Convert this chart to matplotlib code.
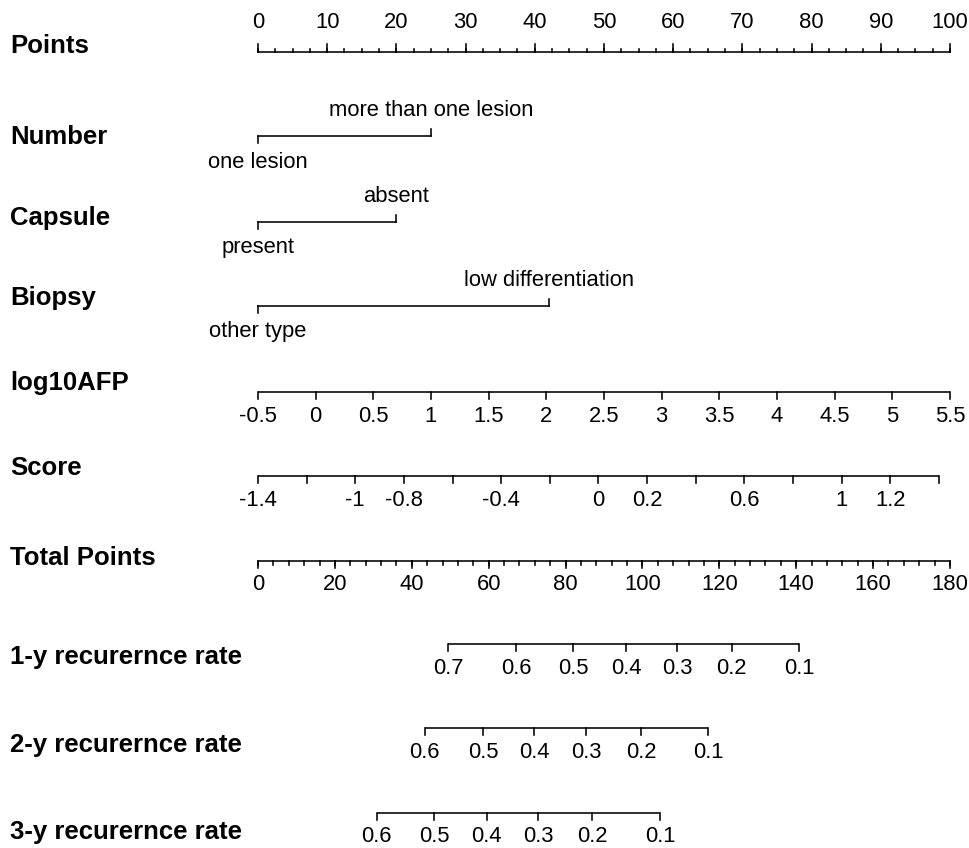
import matplotlib
matplotlib.use("Agg")
import numpy as np
from matplotlib import pyplot as plt

plt.rcParams['font.family'] = ['Liberation Sans', 'DejaVu Sans']

# Points scale (top axis)
points_major = [0, 10, 20, 30, 40, 50, 60, 70, 80, 90, 100]
points_minor_step = 2.5

# Categorical predictors: (low label, high label, points of high level)
number_levels = ["one lesion", "more than one lesion"]
number_points = [0, 25]
capsule_levels = ["present", "absent"]
capsule_points = [0, 20]
biopsy_levels = ["other type", "low differentiation"]
biopsy_points = [0, 42]

# log10AFP: -0.5 -> 0 points, 5.5 -> 100 points
afp_ticks = [-0.5, 0, 0.5, 1, 1.5, 2, 2.5, 3, 3.5, 4, 4.5, 5, 5.5]
afp_range = (-0.5, 5.5)
afp_points_range = (0, 100)

# Score: -1.4 -> 0 points, 1.4 -> 98.4 points
score_ticks = [-1.4, -1.2, -1.0, -0.8, -0.6, -0.4, -0.2, 0, 0.2, 0.4, 0.6, 0.8, 1.0, 1.2, 1.4]
score_labels = ["-1.4", "", "-1", "-0.8", "", "-0.4", "", "0", "0.2", "", "0.6", "", "1", "1.2", ""]
score_range = (-1.4, 1.4)
score_points_range = (0, 98.4)

# Total points scale
total_major = [0, 20, 40, 60, 80, 100, 120, 140, 160, 180]
total_minor_step = 4
total_max = 180

# Recurrence rates and the total points where they sit
rate1_labels = ["0.7", "0.6", "0.5", "0.4", "0.3", "0.2", "0.1"]
rate1_total = [49.5, 67.1, 82.0, 95.7, 109.1, 123.2, 140.8]
rate2_labels = ["0.6", "0.5", "0.4", "0.3", "0.2", "0.1"]
rate2_total = [43.4, 58.5, 71.9, 85.3, 99.6, 117.1]
rate3_labels = ["0.6", "0.5", "0.4", "0.3", "0.2", "0.1"]
rate3_total = [30.9, 45.8, 59.5, 72.9, 87.0, 104.6]

W, H = 970, 848
X0, X100 = 258, 950          # pixel position of 0 and 100 points
PX = (X100 - X0) / 100.0

fig = plt.figure(figsize=(W / 100, H / 100), dpi=100)
ax = fig.add_axes([0, 0, 1, 1])
ax.set_xlim(-X0 / PX, (W - X0) / PX)
ax.set_ylim(H, 0)
ax.axis('off')

LW = 1.15
FS_TICK = 15.8
FS_LAB = 18.5
MAJ, MINR = 7, 3.5


def to_points(v, vrange, prange):
    v = np.asarray(v, dtype=float)
    return prange[0] + (v - vrange[0]) / (vrange[1] - vrange[0]) * (prange[1] - prange[0])


def row_label(y, text):
    ax.text(-(X0 - 10) / PX, y, text, fontsize=FS_LAB, fontweight='bold',
            ha='left', va='center')


def scale_down(y, pos, labels, minor=None, lab_off=24):
    pos = np.asarray(pos, dtype=float)
    ax.plot([pos.min(), pos.max()], [y, y], color='black', lw=LW, solid_capstyle='butt')
    if minor is not None:
        for m in minor:
            ax.plot([m, m], [y, y + MINR], color='black', lw=LW)
    for p, t in zip(pos, labels):
        ax.plot([p, p], [y, y + MAJ], color='black', lw=LW)
        if t:
            ax.text(p, y + lab_off, t, fontsize=FS_TICK, ha='center', va='center')


def scale_cat(y, pts, levels, off=26):
    ax.plot([pts[0], pts[1]], [y, y], color='black', lw=LW)
    ax.plot([pts[0], pts[0]], [y, y + MAJ], color='black', lw=LW)
    ax.plot([pts[1], pts[1]], [y, y - MAJ], color='black', lw=LW)
    ax.text(pts[0], y + off, levels[0], fontsize=FS_TICK, ha='center', va='center')
    ax.text(pts[1], y - off, levels[1], fontsize=FS_TICK, ha='center', va='center')


# Points
row_label(46, "Points")
y = 52
ax.plot([0, 100], [y, y], color='black', lw=LW)
for m in np.arange(0, 100 + 0.01, points_minor_step):
    ax.plot([m, m], [y, y - MINR], color='black', lw=LW)
for p in points_major:
    ax.plot([p, p], [y, y - MAJ - 1], color='black', lw=LW)
    ax.text(p, 22, str(p), fontsize=FS_TICK, ha='center', va='center')

# Categorical rows
row_label(137, "Number")
scale_cat(136, number_points, number_levels)
row_label(218, "Capsule")
scale_cat(222, capsule_points, capsule_levels)
row_label(298, "Biopsy")
scale_cat(306, biopsy_points, biopsy_levels)

# log10AFP
row_label(383, "log10AFP")
scale_down(392, to_points(afp_ticks, afp_range, afp_points_range),
           [f"{v:g}" for v in afp_ticks])

# Score
row_label(468, "Score")
scale_down(476, to_points(score_ticks, score_range, score_points_range), score_labels)

# Total Points
row_label(558, "Total Points")
tot_minor = np.arange(0, total_max + 0.01, total_minor_step) / total_max * 100
scale_down(561, np.asarray(total_major) / total_max * 100,
           [str(v) for v in total_major], minor=tot_minor)

# Recurrence rates
row_label(657, "1-y recurernce rate")
scale_down(644, np.asarray(rate1_total) / total_max * 100, rate1_labels)
row_label(745, "2-y recurernce rate")
scale_down(728, np.asarray(rate2_total) / total_max * 100, rate2_labels)
row_label(832, "3-y recurernce rate")
scale_down(813, np.asarray(rate3_total) / total_max * 100, rate3_labels)

fig.savefig("out.png", dpi=100)
